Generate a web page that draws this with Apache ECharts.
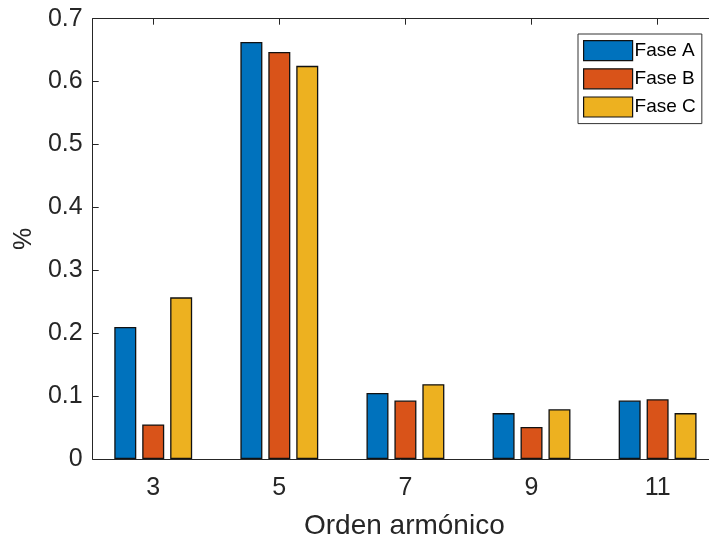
<!DOCTYPE html>
<html>
<head>
<meta charset="utf-8">
<script src="https://cdn.jsdelivr.net/npm/echarts@6/dist/echarts.min.js"></script>
<style>
html,body{margin:0;padding:0;background:#fff;}
#chart{width:709px;height:537px;}
</style>
</head>
<body>
<div id="chart"></div>
<script>
const orders = [3, 5, 7, 9, 11];
const seriesNames = ['Fase A', 'Fase B', 'Fase C'];
const faseA = [0.210, 0.663, 0.105, 0.073, 0.093];
const faseB = [0.055, 0.647, 0.093, 0.051, 0.095];
const faseC = [0.257, 0.625, 0.119, 0.079, 0.073];
const yTicks = [0, 0.1, 0.2, 0.3, 0.4, 0.5, 0.6, 0.7];
const colors = ['#0072BD', '#D95319', '#EDB120'];

const FONT = "'Liberation Sans', Arial, Helvetica, sans-serif";
const TXT = '#262626';

const chart = echarts.init(document.getElementById('chart'), null, {renderer: 'canvas'});

function mk(vals) { return orders.map((o, i) => [o, vals[i]]); }

const xMin = 2.04, xMax = 11.815;

const option = {
  backgroundColor: '#fff',
  animation: false,
  textStyle: {fontFamily: FONT},
  grid: {left: 92.7, top: 18.7, right: 0, bottom: 78, containLabel: false, outerBoundsMode: 'none'},
  legend: {
    data: seriesNames,
    orient: 'vertical',
    left: 578,
    top: 34,
    itemWidth: 49,
    itemHeight: 20,
    itemGap: 7,
    padding: [6, 6, 6, 5],
    borderColor: '#333',
    borderWidth: 1,
    backgroundColor: '#fff',
    icon: 'rect',
    itemStyle: {borderColor: '#111', borderWidth: 1.2},
    textStyle: {fontFamily: FONT, fontSize: 19, color: '#000', padding: [0, 0, 0, -3]}
  },
  xAxis: [
    {
      type: 'value',
      min: xMin, max: xMax,
      position: 'bottom',
      name: 'Orden armónico',
      nameLocation: 'middle',
      nameGap: 53,
      nameTextStyle: {fontFamily: FONT, fontSize: 28, color: TXT, padding: [0, 0, 0, 7]},
      axisLine: {show: true, lineStyle: {color: TXT, width: 1}},
      axisTick: {show: true, inside: true, length: 6, customValues: orders, lineStyle: {color: TXT}},
      axisLabel: {show: true, customValues: orders, margin: 17, fontFamily: FONT, fontSize: 25, color: TXT},
      splitLine: {show: false}
    },
    {
      type: 'value',
      min: xMin, max: xMax,
      position: 'top',
      axisLine: {show: true, lineStyle: {color: TXT, width: 1}},
      axisTick: {show: true, inside: true, length: 6, customValues: orders, lineStyle: {color: TXT}},
      axisLabel: {show: false},
      splitLine: {show: false}
    }
  ],
  yAxis: {
    type: 'value',
    min: 0, max: 0.7, interval: 0.1,
    name: '%',
    nameLocation: 'middle',
    nameRotate: 90,
    nameGap: 53,
    nameTextStyle: {fontFamily: FONT, fontSize: 25, color: TXT},
    axisLine: {show: true, lineStyle: {color: TXT, width: 1}},
    axisTick: {show: true, inside: true, length: 6, lineStyle: {color: TXT}},
    axisLabel: {
      margin: 10, fontFamily: FONT, fontSize: 25, color: TXT,
      formatter: v => (Math.abs(v) < 1e-9 ? '0' : v.toFixed(1))
    },
    splitLine: {show: false}
  },
  series: [faseA, faseB, faseC].map((vals, i) => ({
    name: seriesNames[i],
    type: 'bar',
    xAxisIndex: 0,
    data: mk(vals),
    barWidth: 22,
    barGap: '27%',
    itemStyle: {color: colors[i], borderColor: '#111', borderWidth: 1.3}
  }))
};
chart.setOption(option);
</script>
</body>
</html>
